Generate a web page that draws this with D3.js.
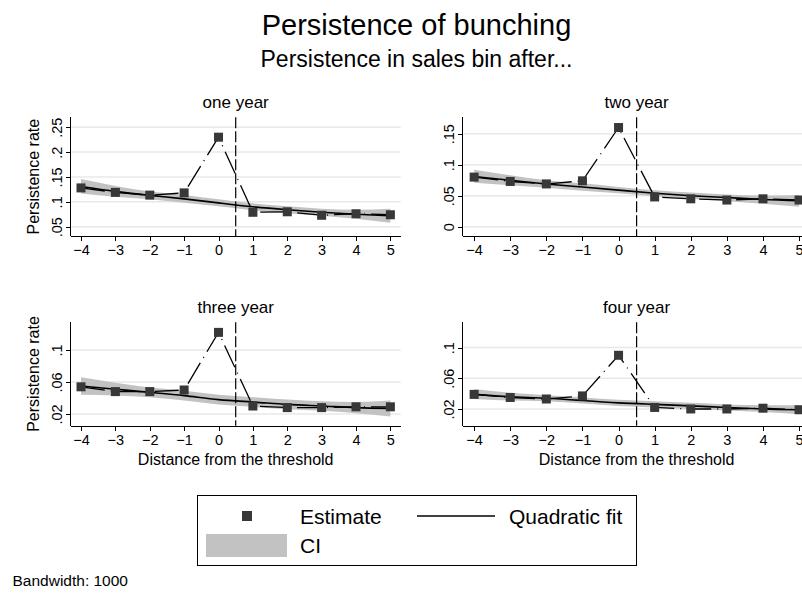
<!DOCTYPE html>
<html>
  <head>
    <meta charset="utf-8">
    <style>
      body {
          margin: 0;
          background: #fff;
          font-family: "Liberation Sans", Arial, Helvetica, sans-serif;
      }
      .grid line {
          stroke: #e8e8e8;
          stroke-width: 1.5;
      }
      .axis path, .axis line {
          stroke: #000;
          shape-rendering: crispEdges;
      }
      .axis text {
          font-family: "Liberation Sans", Arial, sans-serif;
          font-size: 14.5px;
          fill: #000;
      }
    </style>
  </head>
  <body>
    <script src="https://cdnjs.cloudflare.com/ajax/libs/d3/7.8.5/d3.min.js"></script>
    <script>
      // distance from the threshold (bins)
      var xVals = [-4, -3, -2, -1, 0, 1, 2, 3, 4, 5];
      var panelTitles = ["one year", "two year", "three year", "four year"];

      // estimates
      var est1 = [0.128, 0.119, 0.1135, 0.118, 0.230, 0.079, 0.080, 0.073, 0.076, 0.074];
      var est2 = [0.080, 0.073, 0.069, 0.074, 0.160, 0.048, 0.045, 0.043, 0.045, 0.043];
      var est3 = [0.054, 0.048, 0.048, 0.050, 0.122, 0.030, 0.028, 0.028, 0.029, 0.029];
      var est4 = [0.039, 0.035, 0.033, 0.037, 0.090, 0.022, 0.020, 0.020, 0.021, 0.019];

      // quadratic fit
      var fit1 = [0.131, 0.121, 0.113, 0.106, 0.098, 0.090, 0.084, 0.079, 0.075, 0.072];
      var fit2 = [0.081, 0.075, 0.069, 0.064, 0.059, 0.054, 0.050, 0.047, 0.044, 0.042];
      var fit3 = [0.055, 0.051, 0.047, 0.043, 0.038, 0.035, 0.032, 0.030, 0.028, 0.027];
      var fit4 = [0.039, 0.036, 0.034, 0.031, 0.028, 0.026, 0.024, 0.022, 0.020, 0.019];

      // confidence interval bounds
      var lo1 = [0.117, 0.110, 0.105, 0.098, 0.091, 0.083, 0.077, 0.072, 0.066, 0.058];
      var hi1 = [0.146, 0.132, 0.121, 0.114, 0.105, 0.097, 0.091, 0.086, 0.084, 0.086];
      var lo2 = [0.071, 0.067, 0.063, 0.058, 0.054, 0.049, 0.045, 0.041, 0.037, 0.032];
      var hi2 = [0.092, 0.083, 0.075, 0.070, 0.064, 0.059, 0.055, 0.052, 0.050, 0.051];
      var lo3 = [0.044, 0.043, 0.041, 0.037, 0.032, 0.029, 0.026, 0.024, 0.021, 0.017];
      var hi3 = [0.066, 0.059, 0.053, 0.049, 0.044, 0.041, 0.038, 0.036, 0.035, 0.037];
      var lo4 = [0.033, 0.031, 0.030, 0.027, 0.024, 0.022, 0.020, 0.018, 0.016, 0.013];
      var hi4 = [0.046, 0.041, 0.038, 0.035, 0.032, 0.030, 0.028, 0.026, 0.025, 0.025];

      // y ticks for each panel
      var yTicks1 = [0.05, 0.1, 0.15, 0.2, 0.25];
      var yTicks2 = [0, 0.05, 0.1, 0.15];
      var yTicks3 = [0.02, 0.06, 0.1];
      var yTicks4 = [0.02, 0.06, 0.1];

      var threshold = 0.5;

      // panel boxes (pixels) and axis ranges
      var panels = [
        {title: panelTitles[0], est: est1, fit: fit1, lo: lo1, hi: hi1, ticks: yTicks1,
         left: 70.7, right: 400.7, top: 117.3, bottom: 236, yDom: [0.0313, 0.270], ytitle: true, xtitle: false},
        {title: panelTitles[1], est: est2, fit: fit2, lo: lo2, hi: hi2, ticks: yTicks2,
         left: 463.3, right: 809.9, top: 117.3, bottom: 236, yDom: [-0.015, 0.1765], ytitle: false, xtitle: false},
        {title: panelTitles[2], est: est3, fit: fit3, lo: lo3, hi: hi3, ticks: yTicks3,
         left: 70.7, right: 400.7, top: 322.3, bottom: 425.7, yDom: [0.0054, 0.1346], ytitle: true, xtitle: true},
        {title: panelTitles[3], est: est4, fit: fit4, lo: lo4, hi: hi4, ticks: yTicks4,
         left: 463.3, right: 809.9, top: 322.3, bottom: 425.7, yDom: [-0.0018, 0.133], ytitle: false, xtitle: true}
      ];

      var width = 802, height = 593, cx = 416.5;

      var svg = d3.select("body").append("svg")
          .attr("width", width)
          .attr("height", height)
          .style("display", "block");

      // titles
      svg.append("text")
          .attr("x", cx).attr("y", 35)
          .attr("text-anchor", "middle")
          .style("font-size", "29px")
          .text("Persistence of bunching");
      svg.append("text")
          .attr("x", cx).attr("y", 66.5)
          .attr("text-anchor", "middle")
          .style("font-size", "23px")
          .text("Persistence in sales bin after...");

      function yFmt(d) {
          return d === 0 ? "0" : String(d).replace(/^0/, "");
      }

      panels.forEach(function(p) {
          var x = d3.scaleLinear().domain([-4.3, 5.3]).range([p.left, p.right]);
          var y = d3.scaleLinear().domain(p.yDom).range([p.bottom, p.top]);
          var g = svg.append("g");

          var pts = xVals.map(function(v, i) {
              return {x: v, est: p.est[i], fit: p.fit[i], lo: p.lo[i], hi: p.hi[i]};
          });

          // gridlines
          g.append("g").attr("class", "grid")
              .selectAll("line").data(p.ticks).enter().append("line")
              .attr("x1", p.left).attr("x2", p.right)
              .attr("y1", function(d) { return y(d); })
              .attr("y2", function(d) { return y(d); });

          // CI band
          var band = d3.area()
              .x(function(d) { return x(d.x); })
              .y0(function(d) { return y(d.lo); })
              .y1(function(d) { return y(d.hi); })
              .curve(d3.curveNatural);
          g.append("path").datum(pts)
              .attr("d", band)
              .style("fill", "#c2c2c2");

          // quadratic fit
          var fitLine = d3.line()
              .x(function(d) { return x(d.x); })
              .y(function(d) { return y(d.fit); })
              .curve(d3.curveNatural);
          g.append("path").datum(pts)
              .attr("d", fitLine)
              .style("fill", "none")
              .style("stroke", "#000")
              .style("stroke-width", 1.6);

          // threshold line
          g.append("line")
              .attr("x1", x(threshold)).attr("x2", x(threshold))
              .attr("y1", p.top).attr("y2", p.bottom)
              .style("stroke", "#000")
              .style("stroke-width", 1.2)
              .style("stroke-dasharray", "11,3");

          // connected estimates
          var estLine = d3.line()
              .x(function(d) { return x(d.x); })
              .y(function(d) { return y(d.est); });
          g.append("path").datum(pts)
              .attr("d", estLine)
              .style("fill", "none")
              .style("stroke", "#000")
              .style("stroke-width", 1.3)
              .style("stroke-dasharray", "24,6,1,6");

          g.selectAll("rect.mk").data(pts).enter().append("rect")
              .attr("class", "mk")
              .attr("x", function(d) { return x(d.x) - 4.5; })
              .attr("y", function(d) { return y(d.est) - 4.5; })
              .attr("width", 9).attr("height", 9)
              .style("fill", "#383838");

          // axes
          var ax = g.append("g").attr("class", "axis")
              .attr("transform", "translate(0," + p.bottom + ")")
              .call(d3.axisBottom(x).tickValues(xVals).tickSize(5).tickPadding(4).tickSizeOuter(0));
          ax.select(".domain").attr("d", "M" + p.left + ",0.5H" + p.right);

          var ay = g.append("g").attr("class", "axis")
              .attr("transform", "translate(" + p.left + ",0)")
              .call(d3.axisLeft(y).tickValues(p.ticks).tickFormat(yFmt).tickSize(5).tickSizeOuter(0));
          ay.select(".domain").attr("d", "M-0.5," + p.top + "V" + p.bottom);
          ay.selectAll(".tick text")
              .attr("x", null).attr("dy", null)
              .attr("text-anchor", "middle")
              .attr("transform", "translate(-9,0) rotate(-90)");

          // panel title
          svg.append("text")
              .attr("x", (p.left + p.right) / 2)
              .attr("y", p.top - 9)
              .attr("text-anchor", "middle")
              .style("font-size", "17px")
              .text(p.title);

          if (p.ytitle) {
              svg.append("text")
                  .attr("transform", "translate(39," + (p.top + p.bottom) / 2 + ") rotate(-90)")
                  .attr("text-anchor", "middle")
                  .style("font-size", "16px")
                  .text("Persistence rate");
          }
          if (p.xtitle) {
              svg.append("text")
                  .attr("x", (p.left + p.right) / 2)
                  .attr("y", p.bottom + 39)
                  .attr("text-anchor", "middle")
                  .style("font-size", "16px")
                  .text("Distance from the threshold");
          }
      });

      // legend
      var leg = svg.append("g");
      leg.append("rect")
          .attr("x", 197.5).attr("y", 495.5)
          .attr("width", 439).attr("height", 70)
          .style("fill", "#fff").style("stroke", "#000");
      leg.append("rect")
          .attr("x", 242).attr("y", 511).attr("width", 10).attr("height", 10)
          .style("fill", "#383838");
      leg.append("text").attr("x", 300).attr("y", 524)
          .style("font-size", "21px").text("Estimate");
      leg.append("line")
          .attr("x1", 417).attr("x2", 495).attr("y1", 516).attr("y2", 516)
          .style("stroke", "#000").style("stroke-width", 1.6);
      leg.append("text").attr("x", 509).attr("y", 524)
          .style("font-size", "21px").text("Quadratic fit");
      leg.append("rect")
          .attr("x", 206).attr("y", 534).attr("width", 81).attr("height", 23)
          .style("fill", "#c2c2c2");
      leg.append("text").attr("x", 300).attr("y", 553)
          .style("font-size", "21px").text("CI");

      // note
      svg.append("text")
          .attr("x", 12.5).attr("y", 586)
          .style("font-size", "15.5px")
          .text("Bandwidth: 1000");
    </script>
  </body>
</html>
